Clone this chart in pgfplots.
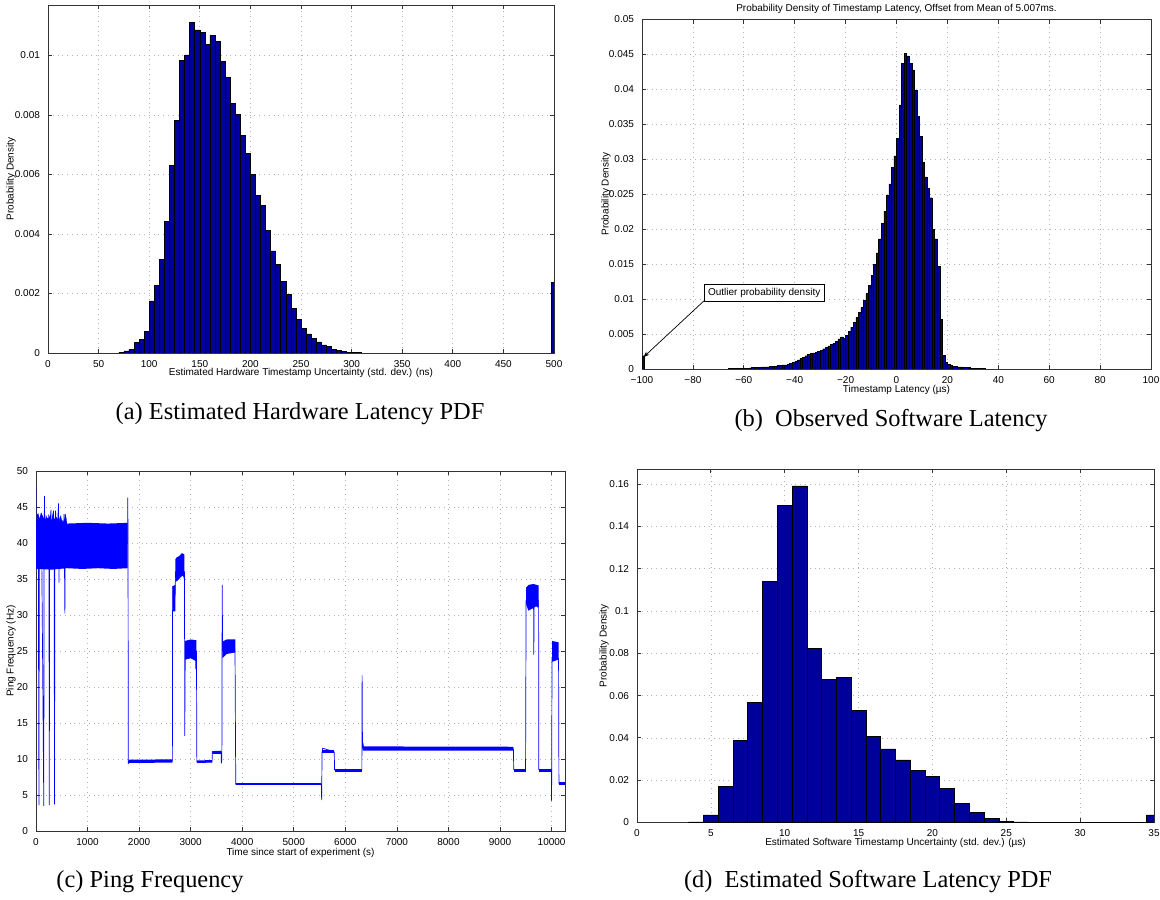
\documentclass[border=0pt]{standalone}
\usepackage{fontspec}
\setmainfont{Liberation Sans}
\newfontfamily\capfont{Liberation Serif}
\usepackage{pgfplots}
\pgfplotsset{compat=1.18}
\usetikzlibrary{arrows.meta}
\definecolor{barblue}{RGB}{0,0,155}
\definecolor{lineblue}{RGB}{0,0,255}
\newcommand{\sm}{\fontsize{5}{6}\selectfont}
\pgfplotsset{mat/.style={
  scale only axis, enlargelimits=false, scaled ticks=false,
  axis line style={black!80, line width=0.45pt},
  grid=major, major grid style={gray!60, dotted, line width=0.35pt},
  tick align=inside, major tick length=2.2pt, tick style={black!80, line width=0.4pt},
  tick label style={font=\sm},
  label style={font=\sm},
  title style={font=\sm},
  yticklabel style={xshift=-0.5pt},
}}
\begin{document}
\begin{tikzpicture}
\useasboundingbox (0,0) rectangle (580pt,449.5pt);
% ---------------- (a)
\begin{axis}[mat, at={(24pt,273pt)}, anchor=south west, width=253pt, height=174pt,
  xmin=0, xmax=500, ymin=0, ymax=0.0117,
  xtick={0,50,...,500}, xticklabels={0,50,100,150,200,250,300,350,400,450,500},
  ytick={0,0.002,0.004,0.006,0.008,0.01}, yticklabels={0,0.002,0.004,0.006,0.008,0.01},
  xlabel={Estimated Hardware Timestamp Uncertainty (std. dev.) (ns)},
  ylabel={Probability Density},
  xlabel style={at={(axis description cs:0.5,-0.0575)}, anchor=center},
  ylabel style={at={(axis description cs:-0.073,0.5)}, anchor=center},
]
\addplot[ybar, bar width=5, fill=barblue, draw=black, line width=0.3pt] table {
x y
72.5 0.00003
77.5 0.00007
82.5 0.000134
87.5 0.000358
92.5 0.000447
97.5 0.000715
102.5 0.00175
107.5 0.00228
112.5 0.00315
117.5 0.00442
122.5 0.00631
127.5 0.00782
132.5 0.00985
137.5 0.01002
142.5 0.01112
147.5 0.01086
152.5 0.01078
157.5 0.01037
162.5 0.01069
167.5 0.01047
172.5 0.00980
177.5 0.00927
182.5 0.00838
187.5 0.00802
192.5 0.00732
197.5 0.00670
202.5 0.00601
207.5 0.00530
212.5 0.00497
217.5 0.00413
222.5 0.00343
227.5 0.00298
232.5 0.00240
237.5 0.00198
242.5 0.00150
247.5 0.00112
252.5 0.00084
257.5 0.00064
262.5 0.00048
267.5 0.00037
272.5 0.00027
277.5 0.00022
282.5 0.00011
287.5 0.00008
292.5 0.00005
297.5 0.00003
302.5 0.00002
307.5 0.00001
500 0.00237
};
\end{axis}
% ---------------- (b)
\begin{axis}[mat, name=bax, at={(321pt,265pt)}, anchor=south west, width=254.5pt, height=174.75pt,
  xmin=-100, xmax=100, ymin=0, ymax=0.05,
  xtick={-100,-80,...,100}, xticklabels={−100,−80,−60,−40,−20,0,20,40,60,80,100},
  ytick={0,0.005,...,0.05}, yticklabels={0,0.005,0.01,0.015,0.02,0.025,0.03,0.035,0.04,0.045,0.05},
  xlabel={Timestamp Latency (µs)},
  ylabel={Probability Density},
  xlabel style={at={(axis description cs:0.5,-0.060)}, anchor=center},
  ylabel style={at={(axis description cs:-0.0707,0.5)}, anchor=center},
]
\addplot[ybar, bar width=1, fill=barblue, draw=black, line width=0.2pt] table {
x y
-99.5 0.0019
-65.5 0.0001
-64.5 0.0001
-63.5 0.0001
-62.5 0.0001
-61.5 0.0001
-60.5 0.0001
-59.5 0.0001
-58.5 0.0001
-57.5 0.00015
-56.5 0.0002
-55.5 0.0002
-54.5 0.0002
-53.5 0.0002
-52.5 0.0003
-51.5 0.0003
-50.5 0.0003
-49.5 0.0004
-48.5 0.0004
-47.5 0.0004
-46.5 0.0005
-45.5 0.0005
-44.5 0.0006
-43.5 0.0006
-42.5 0.0007
-41.5 0.0008
-40.5 0.0010
-39.5 0.0011
-38.5 0.0013
-37.5 0.0015
-36.5 0.0017
-35.5 0.0019
-34.5 0.0021
-33.5 0.0022
-32.5 0.0023
-31.5 0.0024
-30.5 0.0025
-29.5 0.0027
-28.5 0.0029
-27.5 0.0031
-26.5 0.0033
-25.5 0.0035
-24.5 0.0037
-23.5 0.0040
-22.5 0.0043
-21.5 0.0046
-20.5 0.0044
-19.5 0.0048
-18.5 0.0054
-17.5 0.0060
-16.5 0.0067
-15.5 0.0074
-14.5 0.0081
-13.5 0.0088
-12.5 0.0098
-11.5 0.0108
-10.5 0.0120
-9.5 0.0134
-8.5 0.0150
-7.5 0.0166
-6.5 0.0186
-5.5 0.0208
-4.5 0.0226
-3.5 0.0248
-2.5 0.0265
-1.5 0.0288
-0.5 0.0305
0.5 0.0330
1.5 0.0378
2.5 0.0437
3.5 0.0452
4.5 0.0448
5.5 0.0437
6.5 0.0428
7.5 0.0399
8.5 0.0361
9.5 0.0333
10.5 0.0296
11.5 0.0275
12.5 0.0258
13.5 0.0245
14.5 0.0200
15.5 0.0186
16.5 0.0147
17.5 0.0071
18.5 0.0020
19.5 0.0010
20.5 0.0007
21.5 0.0005
22.5 0.0004
23.5 0.0004
24.5 0.0003
25.5 0.0003
26.5 0.0002
27.5 0.0002
28.5 0.0002
29.5 0.0001
30.5 0.0001
31.5 0.0001
32.5 0.0001
33.5 0.0001
34.5 0.0001
};
\node[draw=black, fill=white, inner sep=1.8pt, font=\sm, line width=0.4pt] at (axis cs:-52,0.01085) {Outlier probability density};
\draw[-{Stealth[length=3pt,width=2.2pt]}, line width=0.35pt] (axis cs:-75.5,0.0098) -- (axis cs:-99.4,0.0017);
\end{axis}
\node[font=\sm, anchor=center, yshift=5.25pt] at (bax.north) {Probability Density of Timestamp Latency, Offset from Mean of 5.007ms.};
% ---------------- (c)
\begin{axis}[mat, at={(18pt,34pt)}, anchor=south west, width=264.5pt, height=180pt,
  xmin=0, xmax=10260, ymin=0, ymax=50,
  xtick={0,1000,...,10000}, xticklabels={0,1000,2000,3000,4000,5000,6000,7000,8000,9000,10000},
  ytick={0,5,...,50}, yticklabels={0,5,10,15,20,25,30,35,40,45,50},
  xlabel={Time since start of experiment (s)},
  ylabel={Ping Frequency (Hz)},
  xlabel style={at={(axis description cs:0.5,-0.061)}, anchor=center},
  ylabel style={at={(axis description cs:-0.0473,0.5)}, anchor=center},
]
\addplot[fill=lineblue, draw=none] coordinates {(2,36.4)(300,36.3)(600,36.5)(900,36.4)(1200,36.5)(1500,36.4)(1778,36.5)(1778,42.8)(1400,42.7)(1000,42.8)(600,42.7)(590,43.5)(560,44.0)(540,42.9)(500,43.2)(470,43.8)(440,43.0)(400,43.6)(360,43.3)(330,44.2)(300,43.1)(270,43.8)(240,43.4)(200,43.6)(170,43.2)(130,43.8)(100,44.2)(70,43.4)(40,44.2)(2,42.8)};
\addplot[fill=lineblue, draw=none] coordinates {(1795,9.45)(2645,9.5)(2645,9.95)(1795,9.9)};
\addplot[fill=lineblue, draw=none] coordinates {(2650,30.5)(2705,30.5)(2705,34.2)(2650,34.0)};
\addplot[fill=lineblue, draw=none] coordinates {(2705,34.6)(2750,34.8)(2800,35.2)(2850,35.5)(2880,34.8)(2880,38.4)(2830,38.6)(2780,38.2)(2730,38.0)(2705,37.8)};
\addplot[fill=lineblue, draw=none] coordinates {(2890,23.8)(3000,24.0)(3100,23.6)(3110,23.6)(3110,26.5)(3000,26.6)(2890,26.4)};
\addplot[fill=lineblue, draw=none] coordinates {(3120,9.45)(3415,9.5)(3415,9.85)(3120,9.8)};
\addplot[fill=lineblue, draw=none] coordinates {(3420,10.7)(3590,10.7)(3590,11.15)(3420,11.1)};
\addplot[fill=lineblue, draw=none] coordinates {(3615,24.0)(3700,24.6)(3865,24.8)(3865,26.6)(3700,26.6)(3615,26.3)};
\addplot[fill=lineblue, draw=none] coordinates {(3875,6.4)(5535,6.4)(5535,6.65)(3875,6.65)};
\addplot[fill=lineblue, draw=none] coordinates {(5545,10.8)(5785,10.8)(5785,11.2)(5545,11.2)};
\addplot[fill=lineblue, draw=none] coordinates {(5790,8.25)(6320,8.25)(6320,8.6)(5790,8.6)};
\addplot[fill=lineblue, draw=none] coordinates {(6335,11.15)(9260,11.15)(9260,11.7)(6335,11.75)};
\addplot[fill=lineblue, draw=none] coordinates {(9265,8.25)(9500,8.25)(9500,8.6)(9265,8.6)};
\addplot[fill=lineblue, draw=none] coordinates {(9505,31.5)(9550,30.6)(9600,30.8)(9700,31.2)(9748,31.0)(9748,34.1)(9650,34.3)(9560,34.2)(9505,33.8)};
\addplot[fill=lineblue, draw=none] coordinates {(9752,8.25)(9995,8.25)(9995,8.6)(9752,8.6)};
\addplot[fill=lineblue, draw=none] coordinates {(10008,23.5)(10135,23.8)(10135,26.2)(10008,26.4)};
\addplot[fill=lineblue, draw=none] coordinates {(10142,6.45)(10260,6.45)(10260,6.8)(10142,6.8)};
\addplot[lineblue, line width=0.35pt] coordinates {
(0,47.5)(5,38)(30,44)(45,38)(57,3.6)(65,40)(100,44.2)(110,40)(151,3.5)(158,42)(165,46.5)(172,40)(200,43.8)(215,39)(250,44)(258,3.6)(265,42)(290,44.6)(300,40)(320,43.5)(340,44.5)(352,38)(359,3.7)(366,41)(380,44.5)(400,40)(438,45.5)(445,34.5)(452,40)(480,43.8)(520,40)(545,44)(560,30.2)(570,44)(580,40)(1000,40)(1779,40)(1780,46.3)(1785,40)(1790,9.3)(1800,9.7)(2645,9.7)(2650,34)(2660,31)(2700,33)(2705,36)(2880,36)(2885,13.2)(2895,25)(3095,25)(3100,22.5)(3105,25)(3112,25)(3120,9.6)(3415,9.6)(3420,11)(3590,11)(3595,9.4)(3605,10)(3611,34.2)(3620,25)(3860,25)(3870,11.5)(3875,6.5)(5535,6.5)(5540,4.3)(5548,11)(5560,11.5)(5785,11)(5790,8.5)(6320,8.5)(6325,21.6)(6332,11.5)(6345,12)(6360,11.4)(9260,11.4)(9265,8.5)(9495,8.5)(9505,32)(9650,32)(9655,24.5)(9662,32)(9748,32)(9752,8.5)(9995,8.5)(10000,4.2)(10008,24)(10135,24)(10142,6.6)(10260,6.6)};
\end{axis}
% ---------------- (d)
\begin{axis}[mat, at={(318.5pt,38.25pt)}, anchor=south west, width=258.5pt, height=176.75pt,
  xmin=0, xmax=35, ymin=0, ymax=0.1671,
  xtick={0,5,...,35}, xticklabels={0,5,10,15,20,25,30,35},
  ytick={0,0.02,...,0.16}, yticklabels={0,0.02,0.04,0.06,0.08,0.1,0.12,0.14,0.16},
  xlabel={Estimated Software Timestamp Uncertainty (std. dev.) (µs)},
  ylabel={Probability Density},
  xlabel style={at={(axis description cs:0.5,-0.058)}, anchor=center},
  ylabel style={at={(axis description cs:-0.0638,0.5)}, anchor=center},
]
\addplot[ybar, bar width=1, fill=barblue, draw=black, line width=0.35pt] table {
x y
4 0.0003
5 0.0036
6 0.0172
7 0.0387
8 0.0569
9 0.1140
10 0.1498
11 0.1591
12 0.0824
13 0.0677
14 0.0687
15 0.0529
16 0.0405
17 0.0348
18 0.0296
19 0.0247
20 0.0217
21 0.0162
22 0.0091
23 0.0049
24 0.0019
25 0.0006
26 0.0003
27 0.0002
28 0.0002
29 0.0001
30 0.00005
31 0.00005
32 0.00005
33 0.00005
34 0.00005
35 0.0036
};
\end{axis}
% captions
\node[font=\capfont\fontsize{12.2}{14}\selectfont, anchor=base] at (150pt,239.5pt) {(a) Estimated Hardware Latency PDF};
\node[font=\capfont\fontsize{12.2}{14}\selectfont, anchor=base] at (445.5pt,236pt) {(b)\ \ Observed Software Latency};
\node[font=\capfont\fontsize{12.2}{14}\selectfont, anchor=base] at (75pt,6pt) {(c) Ping Frequency};
\node[font=\capfont\fontsize{12.2}{14}\selectfont, anchor=base west] at (338.5pt,6pt) {(d)\ \ Estimated Software Latency PDF};
\end{tikzpicture}
\end{document}
